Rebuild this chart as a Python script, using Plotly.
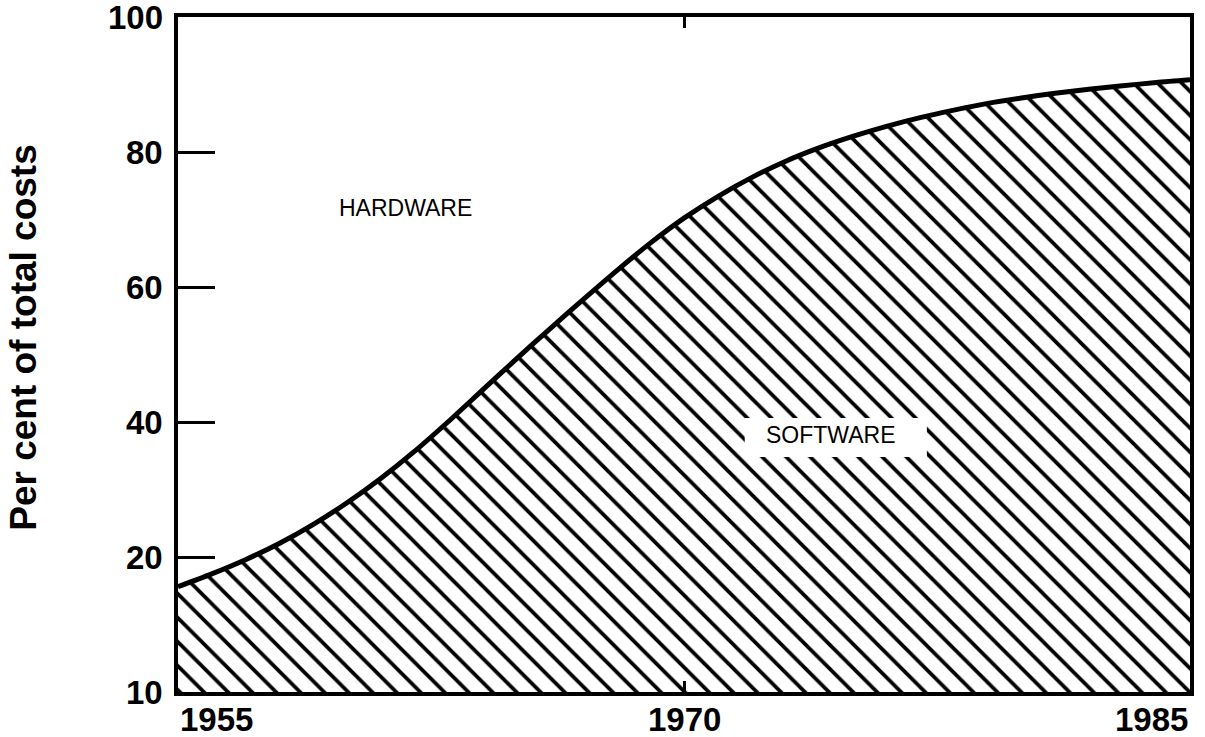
import plotly.graph_objects as go

# Data (percent of total costs taken by software)
years = list(range(1955, 1986))
software_pct = [15.6, 17.5, 19.6, 22.0, 24.8, 28.0, 31.6, 35.6, 40.0, 44.6,
                49.2, 53.7, 58.1, 62.4, 66.5, 70.2, 73.4, 76.2, 78.6, 80.6,
                82.3, 83.8, 85.1, 86.2, 87.2, 88.0, 88.7, 89.3, 89.8, 90.3, 90.7]

y_tickvals = [0, 20, 40, 60, 80, 100]
y_ticktext = ["10", "20", "40", "60", "80", "100"]
x_tickvals = [1955, 1970, 1985]
x_ticktext = ["1955", "1970", "1985"]
x_label_anchor = ["left", "center", "right"]

FONT = "Liberation Sans, Arial, Helvetica, sans-serif"
TICKFONT = dict(family=FONT, size=33, color="black", weight="bold")

fig = go.Figure()
fig.add_trace(go.Scatter(
    x=years, y=software_pct, mode="lines",
    line=dict(color="black", width=5, shape="spline", smoothing=0.8),
    fill="tozeroy",
    fillcolor="white",
    fillpattern=dict(shape="\\", fgcolor="black", bgcolor="white", fgopacity=1,
                     size=17, solidity=0.22),
    showlegend=False, hoverinfo="skip",
))

# white box behind SOFTWARE label
fig.add_shape(type="rect", xref="x", yref="y",
              x0=1971.8, x1=1977.2, y0=34.8, y1=40.6,
              fillcolor="white", line=dict(width=0), layer="above")

annotations = [
    dict(x=1961.73, y=71.7, xref="x", yref="y", text="HARDWARE", showarrow=False,
         font=dict(family=FONT, size=23, color="black")),
    dict(x=1974.33, y=38.1, xref="x", yref="y", text="SOFTWARE", showarrow=False,
         font=dict(family=FONT, size=23, color="black")),
    dict(x=-0.153, y=0.525, xref="paper", yref="paper", text="Per cent of total costs",
         textangle=-90, showarrow=False, xanchor="center", yanchor="middle",
         font=dict(family=FONT, size=37, color="black", weight="bold")),
]
for xv, xt, anc in zip(x_tickvals, x_ticktext, x_label_anchor):
    annotations.append(dict(x=xv, y=0, xref="x", yref="paper", text=xt,
                            xanchor=anc, yanchor="middle", yshift=-27,
                            showarrow=False, font=TICKFONT))
for yv, yt in zip(y_tickvals, y_ticktext):
    annotations.append(dict(x=0, y=yv, xref="paper", yref="y", text=yt,
                            xanchor="right", yanchor="middle", xshift=-13,
                            showarrow=False, font=TICKFONT))

fig.update_layout(
    width=1205, height=737,
    margin=dict(l=178, r=15, t=17, b=45),
    paper_bgcolor="white", plot_bgcolor="white",
    annotations=annotations,
    xaxis=dict(range=[1955, 1985], tickvals=x_tickvals, showticklabels=False,
               ticks="inside", ticklen=11, tickwidth=3, tickcolor="black",
               showline=True, linewidth=4, linecolor="black", mirror="ticks",
               showgrid=False, zeroline=False),
    yaxis=dict(range=[0, 100], tickvals=y_tickvals, showticklabels=False,
               ticks="inside", ticklen=37, tickwidth=3, tickcolor="black",
               showline=True, linewidth=4, linecolor="black", mirror=True,
               showgrid=False, zeroline=False),
)

fig.write_html("out.html", config=dict(displayModeBar=False),
               post_script="document.body.style.margin='0';document.body.style.overflow='hidden';")
